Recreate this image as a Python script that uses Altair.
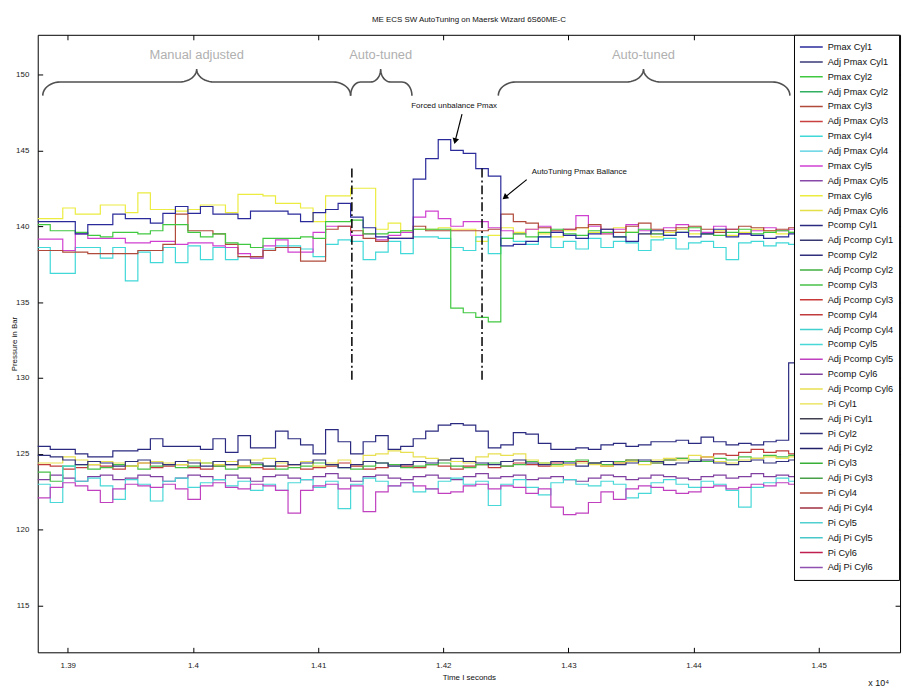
import altair as alt
import pandas as pd
import numpy as np

# ---------------- data ----------------
TIME = [13876, 13886, 13896, 13906, 13916, 13926, 13936, 13946, 13956, 13966,
        13976, 13986, 13996, 14006, 14016, 14026, 14036, 14046, 14056, 14066,
        14076, 14086, 14096, 14106, 14116, 14126, 14136, 14146, 14156, 14166,
        14176, 14186, 14196, 14206, 14216, 14226, 14236, 14246, 14256, 14266,
        14276, 14286, 14296, 14306, 14316, 14326, 14336, 14346, 14356, 14366,
        14376, 14386, 14396, 14406, 14416, 14426, 14436, 14446, 14456, 14466,
        14476, 14486]

PMAX_CYL1 = [140.3, 140.3, 140.3, 139.5, 140.1, 140.1, 140.8, 140.5, 140.5, 140.2,
             140.85, 141.3, 140.85, 141.3, 140.8, 140.8, 140.5, 141.0, 141.0, 141.0,
             140.8, 140.3, 140.9, 141.1, 141.5, 140.6, 139.9, 139.3, 139.2, 139.2,
             143.1, 144.45, 145.7, 145.0, 144.8, 143.8, 143.3, 138.7, 138.8, 139.0,
             139.3, 139.6, 139.4, 139.2, 139.5, 139.8, 139.3, 139.0, 139.5, 139.7,
             139.4, 139.6, 139.3, 139.5, 139.8, 139.3, 139.5, 139.4, 139.2, 139.3,
             139.5, 139.5]
PMAX_CYL2 = [140.1, 139.7, 139.7, 139.6, 139.4, 139.3, 139.6, 139.6, 139.5, 139.7,
             140.1, 140.1, 139.6, 139.3, 139.5, 138.9, 138.8, 138.6, 139.2, 139.2,
             139.2, 139.3, 139.2, 140.3, 140.3, 140.4, 139.5, 139.5, 139.6, 139.7,
             139.8, 139.8, 139.8, 134.6, 134.3, 134.0, 133.7, 139.2, 139.5, 139.3,
             139.6, 139.8, 139.5, 139.4, 139.7, 139.6, 139.3, 139.6, 139.8, 139.5,
             139.4, 139.6, 139.9, 139.5, 139.4, 139.6, 139.8, 139.5, 139.6, 139.7,
             139.6, 139.6]
PMAX_CYL3 = [138.4, 138.4, 138.3, 138.3, 138.2, 138.2, 138.2, 138.2, 138.4, 138.4,
             138.8, 140.8, 139.7, 139.7, 139.5, 138.8, 138.0, 138.0, 138.4, 138.6,
             138.6, 137.7, 137.7, 139.8, 140.0, 139.7, 139.2, 139.0, 139.2, 139.2,
             140.0, 139.7, 139.7, 139.7, 139.7, 139.7, 139.8, 140.8, 140.3, 140.2,
             139.9, 139.7, 139.8, 139.9, 140.1, 139.8, 139.6, 140.0, 140.2, 139.8,
             139.7, 139.9, 140.0, 139.8, 139.6, 139.8, 140.0, 139.9, 139.7, 139.8,
             139.9, 139.9]
PMAX_CYL4 = [138.6, 136.9, 136.9, 138.6, 138.6, 137.9, 138.6, 136.4, 138.3, 137.6,
             138.6, 137.6, 138.7, 137.8, 138.6, 137.8, 138.0, 137.9, 138.5, 138.7,
             138.7, 138.5, 138.0, 138.8, 139.1, 139.0, 137.8, 138.3, 139.0, 138.2,
             139.3, 139.3, 139.2, 138.6, 138.4, 139.3, 138.2, 139.2, 139.0, 138.8,
             139.3, 138.6, 139.0, 138.5, 139.2, 138.6, 139.0, 138.9, 138.4, 139.1,
             139.2, 138.5, 138.9, 139.0, 138.6, 137.8, 138.9, 139.0, 138.7, 138.9,
             138.8, 138.8]
PMAX_CYL5 = [139.15, 139.15, 138.4, 139.5, 139.2, 139.2, 139.2, 138.9, 138.9, 139.0,
             139.0, 138.8, 138.9, 138.9, 138.7, 138.6, 138.2, 137.9, 138.7, 139.1,
             138.3, 138.3, 139.6, 140.0, 140.0, 139.4, 139.5, 139.1, 139.4, 139.6,
             140.6, 141.0, 140.5, 140.0, 140.3, 140.3, 139.9, 139.7, 139.5, 139.8,
             140.0, 139.6, 139.8, 140.7, 140.0, 139.5, 139.8, 140.1, 139.7, 139.5,
             139.9, 140.1, 139.7, 139.6, 140.0, 139.8, 139.5, 139.7, 139.9, 139.7,
             139.8, 139.8]
PMAX_CYL6 = [140.5, 140.5, 141.2, 140.8, 140.8, 141.4, 141.4, 140.9, 142.2, 141.1,
             141.1, 141.0, 141.1, 141.4, 141.4, 140.9, 142.1, 142.1, 142.0, 141.5,
             141.5, 141.2, 140.3, 142.0, 142.0, 142.5, 142.5, 139.8, 140.2, 139.7,
             139.8, 139.8, 139.9, 139.8, 139.8, 139.0, 139.4, 139.9, 139.6, 139.8,
             139.5, 139.3, 139.7, 139.9, 139.6, 139.5, 139.9, 139.6, 139.5, 139.3,
             139.6, 139.8, 139.5, 139.5, 139.7, 139.4, 139.6, 139.8, 139.7, 139.5,
             139.6, 139.6]

PCOMP_CYL1 = [125.5, 125.3, 125.3, 125.0, 124.8, 124.8, 125.2, 125.2, 125.3, 126.0,
              125.5, 125.5, 125.5, 125.3, 126.0, 125.1, 126.2, 125.4, 125.4, 126.5,
              126.0, 125.6, 125.0, 126.6, 125.8, 125.0, 125.8, 126.2, 125.3, 125.5,
              126.0, 126.5, 126.9, 127.0, 126.9, 126.5, 125.4, 125.6, 126.4, 126.3,
              125.7, 125.3, 125.3, 125.4, 125.3, 125.6, 125.7, 125.5, 125.6, 125.8,
              125.8, 125.9, 125.7, 126.1, 125.8, 125.6, 125.7, 125.6, 125.8, 125.9,
              131.0, 131.0]
PCOMP_CYL2 = [124.9, 124.8, 124.6, 124.3, 124.5, 124.4, 124.2, 124.5, 124.6, 124.4,
              124.3, 124.5, 124.4, 124.2, 124.5, 124.3, 124.6, 124.4, 124.2, 124.5,
              124.3, 124.4, 124.6, 124.3, 124.1, 124.3, 124.5, 124.4, 124.2, 124.3,
              124.5, 124.4, 124.6, 124.7, 124.5, 124.4, 124.3, 124.5, 124.6, 124.4,
              124.3, 124.5, 124.4, 124.2, 124.4, 124.5, 124.3, 124.4, 124.6, 124.5,
              124.3, 124.4, 124.5, 124.6, 124.4, 124.3, 124.5, 124.6, 124.4, 124.5,
              124.6, 124.6]
PCOMP_CYL3 = [123.8, 123.2, 124.2, 124.3, 124.0, 124.1, 124.3, 124.2, 124.0, 124.2,
              124.3, 124.1, 124.2, 124.4, 124.2, 124.0, 124.1, 124.3, 124.2, 124.0,
              124.1, 124.2, 124.4, 124.3, 124.1, 124.0, 124.2, 124.4, 124.3, 124.1,
              124.2, 124.3, 124.4, 124.2, 124.1, 124.3, 124.4, 124.2, 124.3, 124.5,
              124.4, 124.3, 124.5, 124.6, 124.4, 124.3, 124.5, 124.6, 124.5, 124.4,
              124.6, 124.7, 124.6, 124.5, 124.7, 124.6, 124.8, 124.7, 124.9, 124.8,
              124.9, 124.9]
PCOMP_CYL4 = [124.3, 124.2, 124.0, 124.1, 124.3, 124.2, 124.0, 124.2, 124.4, 124.1,
              124.2, 124.3, 124.1, 124.0, 124.2, 124.3, 124.2, 124.1, 124.0, 124.2,
              124.3, 124.0, 124.1, 124.2, 124.4, 124.2, 124.0, 124.1, 124.3, 124.2,
              124.1, 124.3, 124.2, 124.0, 124.2, 124.3, 124.1, 124.2, 124.4, 124.3,
              124.2, 124.4, 124.3, 124.5, 124.4, 124.2, 124.4, 124.6, 124.5, 124.4,
              124.6, 124.7, 124.5, 124.8, 125.0, 124.9, 125.1, 125.3, 125.1, 125.2,
              125.0, 125.0]
PCOMP_CYL5 = [123.0, 121.8, 124.2, 123.2, 123.4, 122.9, 122.0, 123.3, 123.0, 121.9,
              123.2, 123.4, 122.8, 123.1, 123.3, 122.9, 123.2, 122.6, 123.0, 122.6,
              123.1, 123.3, 122.8, 123.2, 121.4, 123.0, 123.4, 123.2, 122.9, 123.1,
              122.5, 122.7, 123.2, 123.4, 123.0, 123.2, 121.6, 123.0, 123.3, 122.8,
              122.3, 123.1, 123.3, 123.0, 122.9, 123.2, 123.0, 122.1, 122.4, 123.1,
              123.3, 123.0, 122.8, 123.2, 123.0, 122.6, 121.5, 122.8, 123.1, 123.4,
              123.2, 123.2]
ADJ_PCOMP_CYL5 = [122.1, 122.8, 123.1, 122.9, 122.6, 121.8, 122.7, 123.0, 122.9, 122.8,
                  123.0, 122.7, 122.0, 122.9, 123.1, 122.8, 122.7, 123.0, 122.9, 122.6,
                  121.1, 122.6, 122.9, 123.0, 122.7, 122.9, 121.2, 122.5, 122.9, 123.1,
                  122.9, 122.7, 122.4, 122.5, 122.9, 123.0, 122.7, 122.9, 122.8, 122.4,
                  122.7, 121.5, 121.0, 121.1, 121.8, 122.5, 122.0, 122.7, 122.9, 122.8,
                  122.6, 122.4, 122.5, 122.8, 122.9, 122.7, 122.8, 123.0, 122.9, 123.1,
                  123.0, 123.0]
PCOMP_CYL6 = [123.3, 123.6, 123.4, 123.2, 123.5, 123.6, 123.3, 123.4, 123.6, 123.5,
              123.2, 123.4, 123.6, 123.5, 123.3, 123.6, 123.4, 123.2, 123.5, 123.6,
              123.4, 123.3, 123.5, 123.7, 123.4, 123.2, 123.5, 123.6, 123.4, 123.3,
              123.5, 123.6, 123.4, 123.3, 123.5, 123.7, 123.4, 123.5, 123.6, 123.3,
              123.4, 123.5, 123.3, 123.2, 123.4, 123.6, 123.5, 123.3, 123.4, 123.6,
              123.5, 123.4, 123.3, 123.5, 123.6, 123.4, 123.5, 123.7, 123.5, 123.6,
              123.5, 123.5]
ADJ_PCOMP_CYL6 = [124.4, 124.4, 124.8, 124.6, 124.3, 124.5, 124.4, 124.2, 124.4, 124.5,
                  124.4, 124.3, 124.6, 124.4, 124.3, 124.5, 124.2, 124.6, 124.7, 124.4,
                  124.3, 124.5, 124.2, 124.4, 124.6, 124.3, 124.9, 125.0, 125.2, 125.1,
                  124.8, 124.7, 124.6, 124.5, 124.4, 124.8, 125.0, 124.9, 125.0, 124.6,
                  124.4, 124.2, 124.3, 124.4, 124.3, 124.2, 124.4, 124.5, 124.3, 124.6,
                  124.7, 124.6, 124.9, 124.8, 124.5, 124.4, 124.6, 124.7, 124.8, 124.7,
                  124.8, 124.8]

LEGEND_NAMES = [
    "Pmax Cyl1", "Adj Pmax Cyl1", "Pmax Cyl2", "Adj Pmax Cyl2", "Pmax Cyl3", "Adj Pmax Cyl3",
    "Pmax Cyl4", "Adj Pmax Cyl4", "Pmax Cyl5", "Adj Pmax Cyl5", "Pmax Cyl6", "Adj Pmax Cyl6",
    "Pcomp Cyl1", "Adj Pcomp Cyl1", "Pcomp Cyl2", "Adj Pcomp Cyl2", "Pcomp Cyl3", "Adj Pcomp Cyl3",
    "Pcomp Cyl4", "Adj Pcomp Cyl4", "Pcomp Cyl5", "Adj Pcomp Cyl5", "Pcomp Cyl6", "Adj Pcomp Cyl6",
    "Pi Cyl1", "Adj Pi Cyl1", "Pi Cyl2", "Adj Pi Cyl2", "Pi Cyl3", "Adj Pi Cyl3",
    "Pi Cyl4", "Adj Pi Cyl4", "Pi Cyl5", "Adj Pi Cyl5", "Pi Cyl6", "Adj Pi Cyl6"]
LEGEND_COLORS = [
    "#2a2a9a", "#3a3a78", "#40c840", "#30b060", "#b04a3a", "#c84040",
    "#40d8d8", "#48cce0", "#d040d0", "#8848a8", "#ecec40", "#e4e048",
    "#2a2a80", "#383870", "#30307c", "#40b040", "#48c048", "#c83838",
    "#c03c3c", "#40d0d0", "#48d8d8", "#c040c0", "#8040a0", "#e8e050",
    "#e8e048", "#404050", "#303078", "#202068", "#38b038", "#48a048",
    "#b04838", "#a03040", "#50d0d0", "#48c8c8", "#c02050", "#9050b0"]

SERIES = {
    "Pcomp Cyl6": PCOMP_CYL6, "Pcomp Cyl4": PCOMP_CYL4, "Pcomp Cyl3": PCOMP_CYL3,
    "Adj Pcomp Cyl6": ADJ_PCOMP_CYL6, "Pcomp Cyl2": PCOMP_CYL2, "Pcomp Cyl5": PCOMP_CYL5,
    "Adj Pcomp Cyl5": ADJ_PCOMP_CYL5, "Pcomp Cyl1": PCOMP_CYL1,
    "Pmax Cyl6": PMAX_CYL6, "Pmax Cyl4": PMAX_CYL4, "Pmax Cyl5": PMAX_CYL5,
    "Pmax Cyl3": PMAX_CYL3, "Pmax Cyl2": PMAX_CYL2, "Pmax Cyl1": PMAX_CYL1,
}

X_TICKS = [13900, 14000, 14100, 14200, 14300, 14400, 14500]
Y_TICKS = [115, 120, 125, 130, 135, 140, 145, 150]
X_DOMAIN = [13876, 14565]
Y_DOMAIN = [111.93, 152.61]

DASH_T = [14127, 14231]
DASH_TOP = [143.8, 143.8]
DASH_BOTTOM = [129.8, 129.8]

BRACE_START = [13880, 14126, 14244]
BRACE_END = [14126, 14175, 14477]
BRACE_TIP = [14003, 14150, 14360]
BRACE_R = [14, 8, 14]
BRACE_LABELS = ["Manual adjusted", "Auto-tuned", "Auto-tuned"]
BRACE_Y_END, BRACE_Y_MID, BRACE_Y_TIP = 148.6, 149.5, 150.35
LABEL_Y = 151.3

NOTE_TEXT = ["Forced unbalance Pmax", "AutoTuning Pmax Ballance"]
NOTE_T = [14208.7, 14308.7]
NOTE_V = [147.9, 143.6]
ARROW_T1 = [14215, 14266.7]
ARROW_V1 = [147.38, 143.07]
ARROW_T2 = [14209.5, 14249.2]
ARROW_V2 = [145.6, 141.9]
ARROW_ANGLE = [14.5, 51]

FONT = "Liberation Sans"

# ---------------- tables ----------------
rows = []
for name, vals in SERIES.items():
    for k, (t, v) in enumerate(zip(TIME, vals)):
        rows.append({"series": name, "t": t, "v": v, "k": k})
df = pd.DataFrame(rows)

brace_rows = []
th = np.linspace(0, np.pi / 2, 12)
for b, (x0, x1, xm, r) in enumerate(zip(BRACE_START, BRACE_END, BRACE_TIP, BRACE_R)):
    pts = []
    for a in th:
        pts.append((x0 + r * (1 - np.cos(a)), BRACE_Y_END + (BRACE_Y_MID - BRACE_Y_END) * np.sin(a)))
    for a in th:
        pts.append((xm - r + r * np.sin(a), BRACE_Y_MID + (BRACE_Y_TIP - BRACE_Y_MID) * (1 - np.cos(a))))
    for a in th[::-1]:
        pts.append((xm + r - r * np.sin(a), BRACE_Y_MID + (BRACE_Y_TIP - BRACE_Y_MID) * (1 - np.cos(a))))
    for a in th[::-1]:
        pts.append((x1 - r * (1 - np.cos(a)), BRACE_Y_END + (BRACE_Y_MID - BRACE_Y_END) * np.sin(a)))
    for k, (x, y) in enumerate(pts):
        brace_rows.append({"brace": b, "k": k, "t": float(x), "v": float(y)})
df_brace = pd.DataFrame(brace_rows)
df_blabel = pd.DataFrame({"t": BRACE_TIP, "v": [LABEL_Y] * 3, "label": BRACE_LABELS})
df_dash = pd.DataFrame({"t": DASH_T, "y1": DASH_TOP, "y2": DASH_BOTTOM})
df_note = pd.DataFrame({"t": NOTE_T, "v": NOTE_V, "label": NOTE_TEXT})
df_arrow = pd.DataFrame({"t1": ARROW_T1, "v1": ARROW_V1, "t2": ARROW_T2, "v2": ARROW_V2,
                         "ang": ARROW_ANGLE})

xs = alt.Scale(domain=X_DOMAIN, nice=False, zero=False)
ys = alt.Scale(domain=Y_DOMAIN, nice=False, zero=False)

axis_bottom = alt.Axis(orient="bottom", values=X_TICKS, offset=-5, tickSize=5, domain=False,
                       labelExpr="format(datum.value / 10000, '.2~f')", labelPadding=9,
                       title="Time I seconds", titleFontSize=8, titleFontWeight="normal",
                       titlePadding=4, titleFont=FONT)
axis_left = alt.Axis(orient="left", values=Y_TICKS, offset=-5, tickSize=5, domain=False,
                     labelPadding=9, title="Pressure in Bar", titleFontSize=8,
                     titleFontWeight="normal", titlePadding=-3, titleFont=FONT)
axis_top = alt.Axis(orient="top", values=X_TICKS, offset=-5, tickSize=5, domain=False,
                    labels=False, title=None)
axis_right = alt.Axis(orient="right", values=Y_TICKS, offset=-5, tickSize=5, domain=False,
                      labels=False, title=None)

lines = alt.Chart(df).mark_line(interpolate="step-after", strokeWidth=1.2).encode(
    x=alt.X("t:Q", scale=xs, axis=axis_bottom),
    y=alt.Y("v:Q", scale=ys, axis=axis_left),
    color=alt.Color("series:N",
                    scale=alt.Scale(domain=LEGEND_NAMES, range=LEGEND_COLORS),
                    legend=alt.Legend(orient="none", legendX=763, legendY=0, title=None,
                                      symbolType="stroke", symbolSize=530,
                                      symbolStrokeWidth=1.5, clipHeight=14.7, rowPadding=0,
                                      padding=5, strokeColor="black", fillColor="white",
                                      labelFontSize=9.3, labelFont=FONT, labelColor="#111",
                                      labelOffset=4, labelLimit=100, symbolLimit=0)),
    order="k:Q",
)

dash = alt.Chart(df_dash).mark_rule(strokeDash=[9, 3, 2, 3], strokeWidth=1.5, color="black").encode(
    x=alt.X("t:Q", scale=xs, axis=axis_top),
    y=alt.Y("y1:Q", scale=ys, axis=axis_right),
    y2="y2:Q",
)

braces = alt.Chart(df_brace).mark_line(color="#505050", strokeWidth=1.6).encode(
    x=alt.X("t:Q", scale=xs, axis=None),
    y=alt.Y("v:Q", scale=ys, axis=None),
    detail="brace:N",
    order="k:Q",
)

blabels = alt.Chart(df_blabel).mark_text(color="#b0b0b0", fontSize=13, font=FONT).encode(
    x=alt.X("t:Q", scale=xs, axis=None),
    y=alt.Y("v:Q", scale=ys, axis=None),
    text="label:N",
)

notes = alt.Chart(df_note).mark_text(color="#111", fontSize=8, font=FONT).encode(
    x=alt.X("t:Q", scale=xs, axis=None),
    y=alt.Y("v:Q", scale=ys, axis=None),
    text="label:N",
)

shafts = alt.Chart(df_arrow).mark_rule(color="black", strokeWidth=1.2).encode(
    x=alt.X("t1:Q", scale=xs, axis=None),
    y=alt.Y("v1:Q", scale=ys, axis=None),
    x2="t2:Q",
    y2="v2:Q",
)

heads = alt.Chart(df_arrow).mark_point(shape="triangle-down", filled=True, size=45,
                                       color="black", opacity=1).encode(
    x=alt.X("t2:Q", scale=xs, axis=None),
    y=alt.Y("v2:Q", scale=ys, axis=None),
    angle=alt.Angle("ang:Q", scale=None),
)

exp = alt.Chart(pd.DataFrame({"s": ["x 10\u2074"]})).mark_text(
    fontSize=9, font=FONT, color="#111", align="left").encode(
    text="s:N", x=alt.value(838), y=alt.value(654))

chart = alt.layer(lines, dash, braces, blabels, notes, shafts, heads, exp).resolve_axis(
    x="independent", y="independent"
).properties(
    width=870, height=623,
    autosize=alt.AutoSizeParams(type="none"),
    padding={"left": 30, "top": 24, "right": 5, "bottom": 38},
    title=alt.TitleParams("ME ECS SW AutoTuning on Maersk Wizard 6S60ME-C", fontSize=8,
                          font=FONT, fontWeight="normal", color="#111", offset=10),
).configure_view(
    stroke="black", strokeWidth=1
).configure_axis(
    grid=False, tickColor="black", labelColor="#222", labelFont=FONT, labelFontSize=8,
    titleColor="#111"
)

chart.save("out.html", embed_options={"renderer": "svg", "actions": False})
